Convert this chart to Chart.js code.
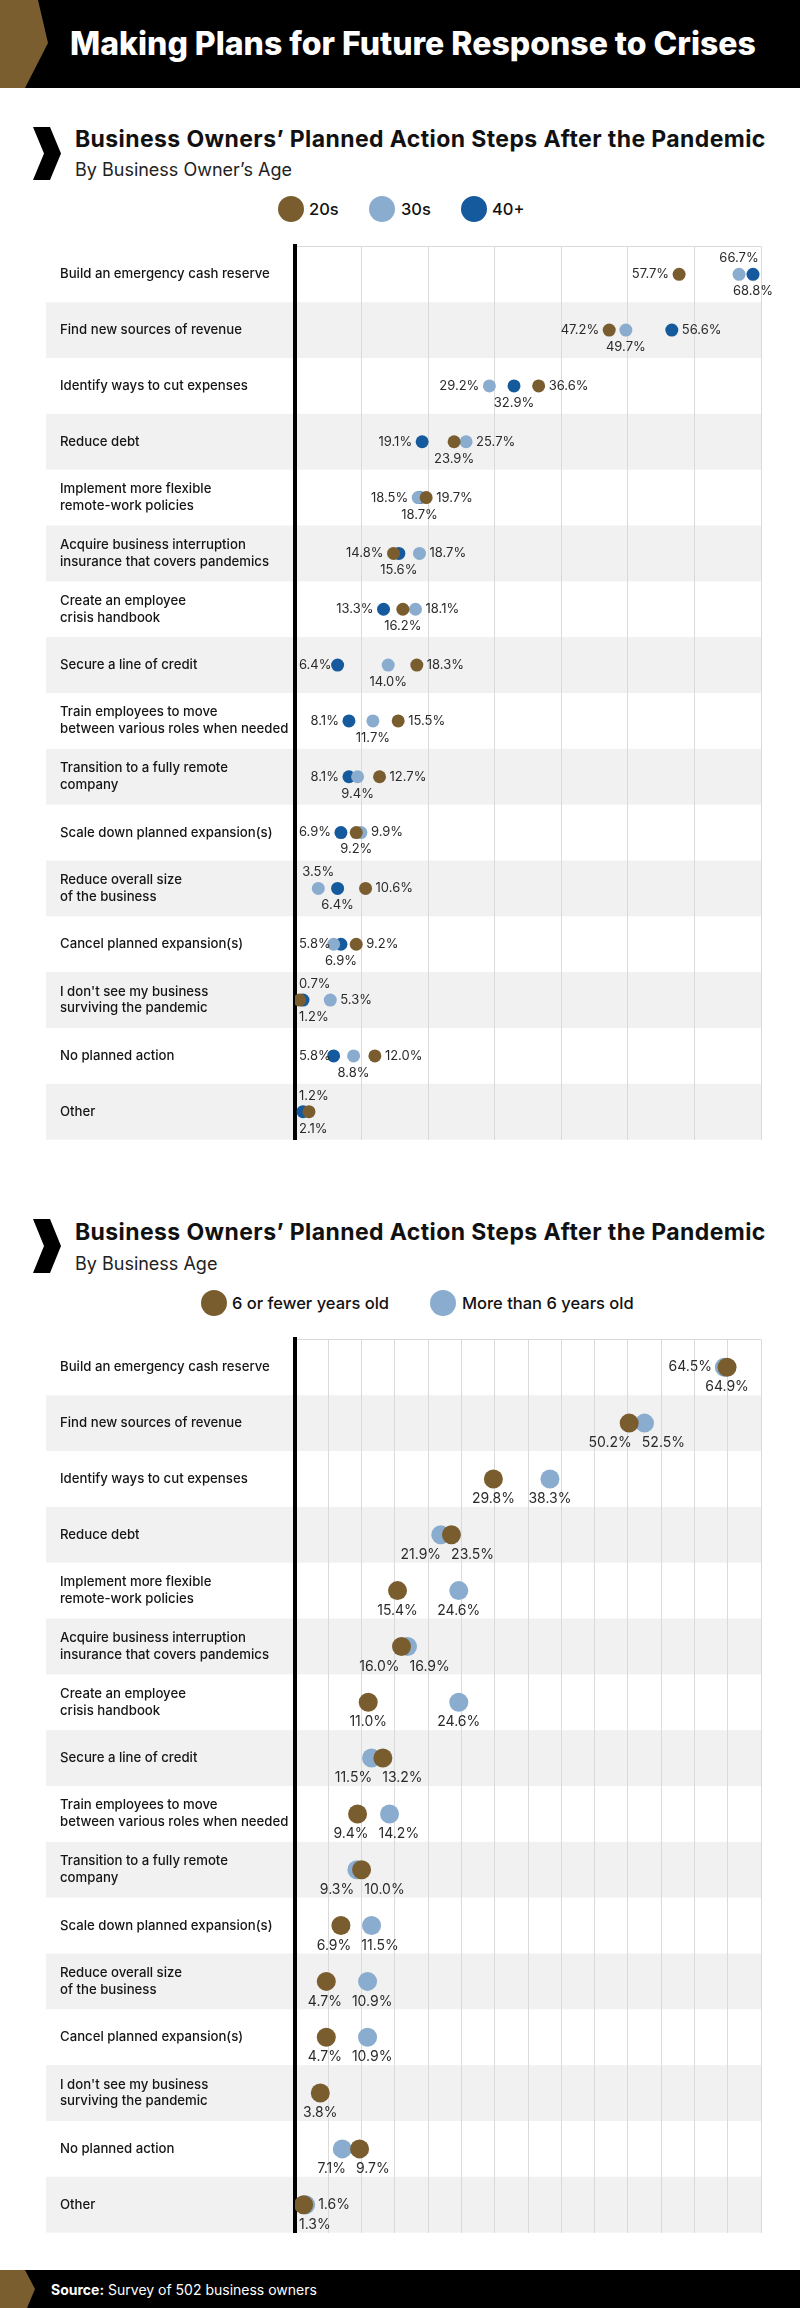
<!DOCTYPE html>
<html>
<head>
<meta charset="utf-8">
<script src="https://cdn.jsdelivr.net/npm/chart.js@4.4.1/dist/chart.umd.min.js"></script>
<style>
  html, body { margin: 0; padding: 0; background: #fff; }
  body { width: 800px; height: 2308px; position: relative; overflow: hidden; font-family: Inter, Roboto, "Noto Sans", sans-serif; }
  .abs { position: absolute; }
  .bar { left: 0; width: 800px; background: #000; }
  .title { left: 70px; top: 43px; transform: translateY(-50%); color: #fff; font-weight: 800; font-size: 32px; letter-spacing: 0px; white-space: nowrap; }
  .h2 { left: 75px; color: #111; font-weight: 700; font-size: 23px; letter-spacing: 0.4px; white-space: nowrap; transform: translateY(-50%); }
  .sub { left: 75px; color: #222; font-weight: 400; font-size: 18px; white-space: nowrap; transform: translateY(-50%); }
  .lgdot { width: 26px; height: 26px; border-radius: 50%; transform: translate(-50%, -50%); }
  .lgtxt { font-size: 16.5px; font-weight: 500; color: #111; transform: translateY(-50%); white-space: nowrap; }
  .src { left: 51px; top: 2289px; transform: translateY(-50%); color: #fff; font-size: 14px; white-space: nowrap; }
  canvas { position: absolute; left: 0; }
</style>
</head>
<body>
<!-- header -->
<div class="abs bar" style="top:0;height:88px;"></div>
<svg class="abs" style="left:0;top:0" width="60" height="88"><polygon points="0,0 38,0 48,43 25,88 0,88" fill="#7A5E2F"/></svg>
<div class="abs title">Making Plans for Future Response to Crises</div>

<!-- section 1 -->
<svg class="abs" style="left:0;top:120px" width="70" height="70"><polygon points="33,7 50,7 61,33.5 50,60 33,60 44,33.5" fill="#000"/></svg>
<div class="abs h2" style="top:139px">Business Owners’ Planned Action Steps After the Pandemic</div>
<div class="abs sub" style="top:169px">By Business Owner’s Age</div>
<div id="legend1"></div>
<canvas id="c1" width="800" height="916" style="top:235px"></canvas>

<!-- section 2 -->
<svg class="abs" style="left:0;top:1213px" width="70" height="70"><polygon points="33,6 50,6 61,33 50,60 33,60 44,33" fill="#000"/></svg>
<div class="abs h2" style="top:1232px">Business Owners’ Planned Action Steps After the Pandemic</div>
<div class="abs sub" style="top:1263px">By Business Age</div>
<div id="legend2"></div>
<canvas id="c2" width="800" height="916" style="top:1328px"></canvas>

<!-- footer -->
<div class="abs bar" style="top:2270px;height:38px;"></div>
<svg class="abs" style="left:0;top:2270px" width="40" height="38"><polygon points="0,0 25,0 35,19 27,38 0,38" fill="#7A5E2F"/></svg>
<div class="abs src"><b>Source:</b> Survey of 502 business owners</div>

<script>
// ---------- DATA ----------
const categories = [
  "Build an emergency cash reserve",
  "Find new sources of revenue",
  "Identify ways to cut expenses",
  "Reduce debt",
  ["Implement more flexible", "remote-work policies"],
  ["Acquire business interruption", "insurance that covers pandemics"],
  ["Create an employee", "crisis handbook"],
  "Secure a line of credit",
  ["Train employees to move", "between various roles when needed"],
  ["Transition to a fully remote", "company"],
  "Scale down planned expansion(s)",
  ["Reduce overall size", "of the business"],
  "Cancel planned expansion(s)",
  ["I don't see my business", "surviving the pandemic"],
  "No planned action",
  "Other"
];

// Chart 1: by business owner's age (%)
const ownerAgeSeries = ["20s", "30s", "40+"];
const age20s   = [57.7, 47.2, 36.6, 23.9, 19.7, 14.8, 16.2, 18.3, 15.5, 12.7, 9.2, 10.6, 9.2, 0.7, 12.0, 2.1];
const age30s   = [66.7, 49.7, 29.2, 25.7, 18.5, 18.7, 18.1, 14.0, 11.7, 9.4, 9.9, 3.5, 5.8, 5.3, 8.8, null];
const age40plus= [68.8, 56.6, 32.9, 19.1, 18.7, 15.6, 13.3, 6.4, 8.1, 8.1, 6.9, 6.4, 6.9, 1.2, 5.8, 1.2];

// Chart 2: by business age (%)
const businessAgeSeries = ["6 or fewer years old", "More than 6 years old"];
const sixOrFewer   = [64.9, 50.2, 29.8, 23.5, 15.4, 16.0, 11.0, 13.2, 9.4, 10.0, 6.9, 4.7, 4.7, 3.8, 9.7, 1.3];
const moreThanSix  = [64.5, 52.5, 38.3, 21.9, 24.6, 16.9, 24.6, 11.5, 14.2, 9.3, 11.5, 10.9, 10.9, null, 7.1, 1.6];

const axisMin = 0, axisMax = 70;
const gridStep1 = 10, gridStep2 = 5;

// ---------- STYLE ----------
const BROWN = "#7A5D2F", LIGHT = "#8AACCE", DARK = "#155A9C";
const FONT = "Inter, Roboto, sans-serif";

function makeLegend(el, items, top) {
  let html = "";
  items.forEach(it => {
    html += `<div class="abs lgdot" style="left:${it.cx}px;top:${top}px;background:${it.color}"></div>`;
    html += `<div class="abs lgtxt" style="left:${it.tx}px;top:${top}px">${it.label}</div>`;
  });
  document.getElementById(el).innerHTML = html;
}
makeLegend("legend1", [
  {cx: 291, tx: 309, color: BROWN, label: ownerAgeSeries[0]},
  {cx: 382, tx: 401, color: LIGHT, label: ownerAgeSeries[1]},
  {cx: 474, tx: 492, color: DARK,  label: ownerAgeSeries[2]}
], 209);
makeLegend("legend2", [
  {cx: 214, tx: 232, color: BROWN, label: businessAgeSeries[0]},
  {cx: 443, tx: 462, color: LIGHT, label: businessAgeSeries[1]}
], 1303);

// stripes behind rows
const stripes = {
  id: "stripes",
  beforeDraw(chart) {
    const {ctx, chartArea} = chart;
    const y = chart.scales.y;
    const h = (chartArea.bottom - chartArea.top) / categories.length;
    ctx.save();
    ctx.fillStyle = "#f1f1f1";
    categories.forEach((c, i) => {
      if (i % 2 === 1) {
        const cy = y.getPixelForValue(i);
        ctx.fillRect(46, cy - h / 2, chartArea.right - 46, h);
      }
    });
    ctx.restore();
  }
};

// value labels
const valueLabels = {
  id: "valueLabels",
  afterDatasetsDraw(chart, args, opts) {
    const {ctx, chartArea} = chart;
    const r = opts.radius;
    const axisX = chartArea.left;
    ctx.save();
    ctx.font = `400 ${opts.fontSize}px ${FONT}`;
    ctx.fillStyle = "#2a2a2a";
    ctx.textBaseline = "middle";
    for (let i = 0; i < categories.length; i++) {
      const pts = [];
      chart.data.datasets.forEach((ds, d) => {
        const v = ds.data[i];
        if (v === null || v === undefined) return;
        const el = chart.getDatasetMeta(d).data[i];
        const txt = v.toFixed(1) + "%";
        pts.push({v, x: el.x, y: el.y, txt, w: ctx.measureText(txt).width});
      });
      pts.sort((a, b) => a.v - b.v);
      const n = pts.length;
      if (!n) continue;
      if (opts.mode === "spread") {
        const off = r + 3.5;
        pts.forEach(p => p.pos = "b");
        if (n >= 2) {
          pts[0].pos = "l";
          pts[n - 1].pos = n === 2 ? "b" : "r";
          if (pts[0].x - off - pts[0].w < axisX - 6) pts[0].pos = "a";
          if (n > 2 && pts[n - 1].x + off + pts[n - 1].w > chartArea.right) {
            pts[n - 1].pos = "b"; pts[n - 2].pos = "a";
          }
        }
        pts.forEach(p => drawLabel(ctx, p, r, off, axisX));
      } else {
        const off = r + 3;
        pts.forEach(p => { p.pos = "b"; p.cx = p.x; });
        if (n === 2) {
          const a = pts[0], b = pts[1];
          const gap = (b.x - b.w / 2) - (a.x + a.w / 2);
          if (gap < 10) {
            const mid = (a.x + b.x) / 2;
            a.cx = mid - 5 - a.w / 2;
            b.cx = mid + 5 + b.w / 2;
            if (b.cx + b.w / 2 > chartArea.right) {
              a.pos = "l"; b.cx = b.x;
            } else if (a.cx - a.w / 2 < axisX + 4) {
              b.pos = "r"; a.cx = a.x;
            }
          }
        }
        pts.forEach(p => drawLabel(ctx, p, r, off, axisX));
      }
    }
    ctx.restore();
  }
};

function drawLabel(ctx, p, r, off, axisX) {
  const cx = p.cx !== undefined ? p.cx : p.x;
  if (p.pos === "l") {
    ctx.textAlign = "right";
    ctx.fillText(p.txt, Math.max(p.x - off, axisX + 4 + p.w), p.y);
  } else if (p.pos === "r") {
    ctx.textAlign = "left"; ctx.fillText(p.txt, p.x + off, p.y);
  } else {
    ctx.textAlign = "center";
    const x = Math.max(cx, axisX + 4 + p.w / 2);
    const y = p.pos === "a" ? p.y - (r + 9.5) : p.y + (r + 10.5);
    ctx.fillText(p.txt, x, y);
  }
}

function makeChart(id, datasets, radius, labelFont, step, mode) {
  return new Chart(document.getElementById(id), {
    type: "line",
    data: {
      labels: categories,
      datasets: datasets.map(ds => ({
        label: ds.label,
        data: ds.data,
        showLine: false,
        pointRadius: radius,
        pointHoverRadius: radius,
        pointBorderWidth: 0,
        pointBackgroundColor: ds.color,
        borderColor: ds.color,
        backgroundColor: ds.color
      }))
    },
    options: {
      indexAxis: "y",
      responsive: false,
      animation: false,
      events: [],
      layout: { padding: { left: 60, right: 39, top: 10, bottom: 10 } },
      plugins: {
        legend: { display: false },
        tooltip: { enabled: false },
        valueLabels: { radius, fontSize: labelFont, mode }
      },
      scales: {
        x: {
          type: "linear",
          min: axisMin, max: axisMax,
          ticks: { display: false, stepSize: step },
          grid: { color: "#dadada", lineWidth: 1, drawTicks: false },
          border: { display: false }
        },
        y: {
          type: "category",
          offset: true,
          afterFit(scale) { scale.width = 235; },
          ticks: {
            autoSkip: false,
            crossAlign: "far",
            color: "#151515",
            font: { family: FONT, size: 13.2, weight: "500", lineHeight: 1.27 }
          },
          grid: {
            offset: true,
            drawTicks: false,
            color: (c) => c.index === 0 ? "#dadada" : "rgba(0,0,0,0)"
          },
          border: { display: true, color: "#000", width: 4 }
        }
      }
    },
    plugins: [stripes, valueLabels]
  });
}

makeChart("c1", [
  {label: ownerAgeSeries[0], data: age20s, color: BROWN},
  {label: ownerAgeSeries[1], data: age30s, color: LIGHT},
  {label: ownerAgeSeries[2], data: age40plus, color: DARK}
], 6.5, 13, gridStep1, "spread");

makeChart("c2", [
  {label: businessAgeSeries[0], data: sixOrFewer, color: BROWN},
  {label: businessAgeSeries[1], data: moreThanSix, color: LIGHT}
], 9.5, 14, gridStep2, "pair");
</script>
</body>
</html>
